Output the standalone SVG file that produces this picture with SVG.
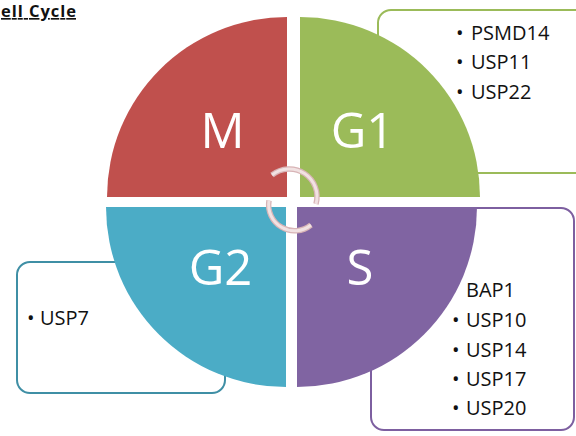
<svg xmlns="http://www.w3.org/2000/svg" width="576" height="436" viewBox="0 0 576 436">
<style>
.box{fill:#fff;stroke-width:2}
.big{font-family:"Open Sans","Noto Sans",sans-serif;font-size:49px;fill:#fff;text-anchor:middle}
.lbl{font-family:"Open Sans","Noto Sans",sans-serif;font-size:20px;fill:#111}
.arcO{fill:none;stroke:#d8b4b6;stroke-width:5.5;stroke-linecap:butt}
.arcI{fill:none;stroke:#f1e2e2;stroke-width:3;stroke-linecap:butt}
</style>
<rect width="576" height="436" fill="#fff"/>
<text x="1" y="17" font-family="'Open Sans','Noto Sans',sans-serif" font-size="16.5" font-weight="bold" fill="#111" text-decoration="underline" textLength="75">ell Cycle</text>

<g id="box-g1">
<rect class="box" x="378" y="10" width="230" height="163" rx="13" stroke="#9bbb59"/>
<text class="lbl" y="40"><tspan x="456">•</tspan><tspan x="471">PSMD14</tspan></text>
<text class="lbl" y="69"><tspan x="456">•</tspan><tspan x="471">USP11</tspan></text>
<text class="lbl" y="99"><tspan x="456">•</tspan><tspan x="471">USP22</tspan></text>
</g>
<g id="box-s">
<rect class="box" x="371" y="208" width="203" height="222" rx="13" stroke="#7d5fa0"/>
<text class="lbl" x="466" y="297">BAP1</text>
<text class="lbl" y="327"><tspan x="452">•</tspan><tspan x="466">USP10</tspan></text>
<text class="lbl" y="357"><tspan x="452">•</tspan><tspan x="466">USP14</tspan></text>
<text class="lbl" y="386"><tspan x="452">•</tspan><tspan x="466">USP17</tspan></text>
<text class="lbl" y="415"><tspan x="452">•</tspan><tspan x="466">USP20</tspan></text>
</g>
<g id="box-g2">
<rect class="box" x="17" y="262" width="208" height="131" rx="13" stroke="#3f8fa5"/>
<text class="lbl" y="325"><tspan x="27">•</tspan><tspan x="40">USP7</tspan></text>
</g>

<g id="M">
<path d="M287,197 L107,197 A180,180 0 0 1 287,17 Z" fill="#c0504d"/>
<text class="big" x="222.5" y="148">M</text>
</g>
<g id="G1">
<path d="M300,197 L300,17 A180,180 0 0 1 480,197 Z" fill="#9bbb59"/>
<text class="big" x="362.5" y="148">G1</text>
</g>
<g id="S">
<path d="M297,207 L477,207 A180,180 0 0 1 297,387 Z" fill="#8064a2"/>
<text class="big" x="360" y="285">S</text>
</g>
<g id="G2">
<path d="M286,207 L286,387 A180,180 0 0 1 106,207 Z" fill="#4bacc6"/>
<text class="big" x="220.5" y="285">G2</text>
</g>

<g id="connectors">
<path class="arcO" d="M272,175 A27.7,27.7 0 0 1 316,204"/>
<path class="arcI" d="M272,175 A27.7,27.7 0 0 1 316,204"/>
<path class="arcO" d="M269,200.5 A26,26 0 0 0 311,225"/>
<path class="arcI" d="M269,200.5 A26,26 0 0 0 311,225"/>
</g>
</svg>
